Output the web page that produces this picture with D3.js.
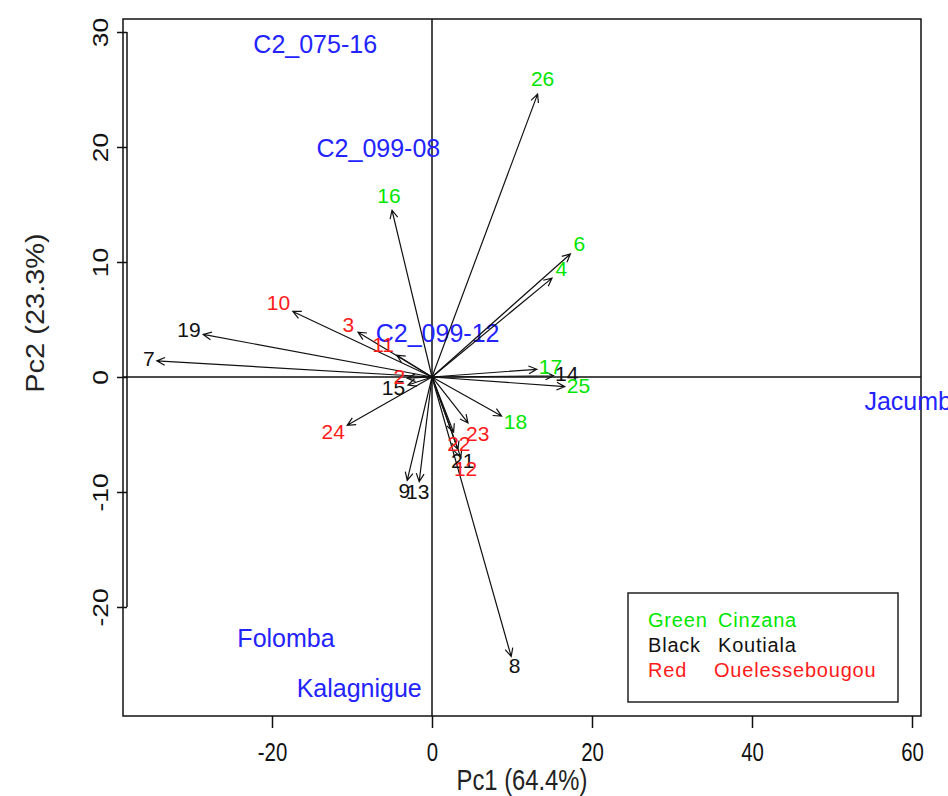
<!DOCTYPE html>
<html>
<head>
<meta charset="utf-8">
<script src="https://cdn.jsdelivr.net/npm/d3@7"></script>
<style>
  html, body { margin: 0; padding: 0; background: #fff; overflow: hidden; }
  svg { display: block; }
</style>
</head>
<body>
<div id="chart"></div>
<script>
// Genotype loadings (arrows) on the first two principal components
const genotypes = ["26","16","6","4","17","14","25","18","23","22","21","12","8","13","9","15","2","24","11","3","10","19","7"];
const genotypeSite = ["Cinzana","Cinzana","Cinzana","Cinzana","Cinzana","Koutiala","Cinzana","Cinzana",
  "Ouelessebougou","Ouelessebougou","Koutiala","Ouelessebougou","Koutiala","Koutiala","Koutiala","Koutiala",
  "Ouelessebougou","Ouelessebougou","Ouelessebougou","Ouelessebougou","Ouelessebougou","Koutiala","Koutiala"];
const genotypePc1 = [13.2,-5.0,17.3,15.0,13.1,15.2,16.6,8.7,4.5,2.7,3.25,3.6,9.9,-1.6,-3.1,-3.0,-3.1,-10.6,-4.4,-9.25,-17.4,-28.6,-34.4];
const genotypePc2 = [24.6,14.5,10.7,8.6,0.67,0.1,-0.84,-3.4,-4.0,-4.8,-6.3,-7.0,-24.3,-9.1,-9.0,-0.7,-0.1,-4.2,1.9,3.9,5.7,3.7,1.4];

// Variety scores (blue labels)
const varieties = ["C2_075-16","C2_099-08","C2_099-12","Jacumbe","Folomba","Kalagnigue"];
const varietyPc1 = [-14.6,-6.7,0.7,60.4,-18.25,-9.1];
const varietyPc2 = [28.9,19.9,3.8,-2.1,-22.7,-27.1];

// Axis ticks and titles
const xTicks = [-20, 0, 20, 40, 60];
const yTicks = [-20, -10, 0, 10, 20, 30];
const xTitle = "Pc1 (64.4%)";
const yTitle = "Pc2 (23.3%)";

// Legend lines: colour word, site
const legendColour = ["Green", "Black", "Red"];
const legendSite = ["Cinzana", "Koutiala", "Ouelessebougou"];

const siteColour = { Cinzana: "#00e600", Koutiala: "#111111", Ouelessebougou: "#ff1a1a" };
const blue = "#2323ff";

const W = 948, H = 796;
const box = { left: 123, right: 921, top: 19, bottom: 716 };

const svg = d3.select("#chart").append("svg").attr("width", W).attr("height", H);

const x = d3.scaleLinear().domain([-38.625, 61.125]).range([box.left, box.right]);
const y = d3.scaleLinear().domain([-29.48, 31.13]).range([box.bottom, box.top]);

const sans = "'Liberation Sans', Arial, sans-serif";

// Plot frame
svg.append("rect")
  .attr("x", box.left).attr("y", box.top)
  .attr("width", box.right - box.left).attr("height", box.bottom - box.top)
  .attr("fill", "none").attr("stroke", "#111").attr("stroke-width", 1.5);

// Zero reference lines
svg.append("line").attr("x1", x(0)).attr("x2", x(0)).attr("y1", box.top).attr("y2", box.bottom)
  .attr("stroke", "#111").attr("stroke-width", 1.5);
svg.append("line").attr("x1", box.left).attr("x2", box.right).attr("y1", y(0)).attr("y2", y(0))
  .attr("stroke", "#111").attr("stroke-width", 1.5);

// Bottom axis
const xAxis = d3.axisBottom(x).tickValues(xTicks).tickSize(12).tickFormat(d3.format("d"));
const gx = svg.append("g").attr("transform", `translate(0,${box.bottom})`).call(xAxis);
gx.select(".domain").remove();
gx.selectAll(".tick line").attr("stroke", "#111").attr("stroke-width", 1.5);
gx.selectAll(".tick text").remove();
gx.selectAll(".tick").append("text")
  .attr("transform", "translate(0,36) scale(0.85,1.05)")
  .attr("text-anchor", "middle").attr("dy", "0.35em")
  .attr("font-family", sans).attr("font-size", 24).attr("fill", "#111")
  .text(d => d < 0 ? "-" + Math.abs(d) : d);

// Left axis (drawn just inside the frame, with its own axis line)
const yAxis = d3.axisLeft(y).tickValues(yTicks).tickSize(10).tickSizeOuter(0).tickFormat(d3.format("d"));
const gy = svg.append("g").attr("transform", `translate(${box.left + 4},0)`).call(yAxis);
gy.select(".domain").attr("stroke", "#111").attr("stroke-width", 1.5)
  .attr("d", `M0,${y(30)}V${y(-20)}`);
gy.selectAll(".tick line").attr("stroke", "#111").attr("stroke-width", 1.5);
gy.selectAll(".tick text").remove();
gy.selectAll(".tick").append("text")
  .attr("transform", "translate(-27,0) rotate(-90) scale(1.1,0.9)")
  .attr("text-anchor", "middle").attr("dy", "0.35em")
  .attr("font-family", sans).attr("font-size", 24).attr("fill", "#111")
  .text(d => d < 0 ? "-" + Math.abs(d) : d);

// Axis titles
svg.append("text")
  .attr("transform", `translate(${(box.left + box.right) / 2},780) scale(0.82,1)`)
  .attr("dy", "0.35em")
  .attr("text-anchor", "middle").attr("font-family", sans).attr("font-size", 29).attr("fill", "#222")
  .text(xTitle);
svg.append("text")
  .attr("transform", "translate(35,313) rotate(-90) scale(1,0.9)")
  .attr("text-anchor", "middle").attr("dy", "0.35em")
  .attr("font-family", sans).attr("font-size", 29).attr("fill", "#222")
  .text(yTitle);

// Variety labels
svg.append("g").selectAll("text").data(varieties).join("text")
  .attr("x", (d, i) => x(varietyPc1[i]))
  .attr("y", (d, i) => y(varietyPc2[i]))
  .attr("dy", "0.35em").attr("text-anchor", "middle")
  .attr("font-family", sans).attr("font-size", 25).attr("fill", blue)
  .text(d => d);

// Genotype arrows
const arrows = svg.append("g").attr("stroke", "#111").attr("stroke-width", 1.2).attr("fill", "none");
const ox = x(0), oy = y(0);
const headLen = 9, headAng = Math.PI / 7;
genotypes.forEach((g, i) => {
  const tx = x(genotypePc1[i]), ty = y(genotypePc2[i]);
  const a = Math.atan2(ty - oy, tx - ox);
  const p1 = [tx - headLen * Math.cos(a - headAng), ty - headLen * Math.sin(a - headAng)];
  const p2 = [tx - headLen * Math.cos(a + headAng), ty - headLen * Math.sin(a + headAng)];
  arrows.append("path")
    .attr("d", `M${ox},${oy}L${tx},${ty}M${p1[0]},${p1[1]}L${tx},${ty}L${p2[0]},${p2[1]}`);
});

// Genotype labels, placed just beyond each arrow tip
svg.append("g").selectAll("text").data(genotypes).join("text")
  .each(function (g, i) {
    const tx = x(genotypePc1[i]), ty = y(genotypePc2[i]);
    const dx = tx - ox, dy = ty - oy, len = Math.hypot(dx, dy);
    const ux = dx / len, uy = dy / len;
    const w = g.length * 11, h = 18;
    const off = 2 + Math.abs(ux) * w / 2 + Math.abs(uy) * h / 2;
    d3.select(this)
      .attr("x", tx + ux * off).attr("y", ty + uy * off - 2);
  })
  .attr("dy", "0.35em").attr("text-anchor", "middle")
  .attr("font-family", sans).attr("font-size", 21)
  .attr("fill", (g, i) => siteColour[genotypeSite[i]])
  .text(d => d);

// Legend
const lg = svg.append("g");
lg.append("rect").attr("x", 628).attr("y", 593).attr("width", 270).attr("height", 109)
  .attr("fill", "#fff").attr("stroke", "#222").attr("stroke-width", 1.5);
legendColour.forEach((c, i) => {
  const col = siteColour[legendSite[i]];
  const yy = 627 + i * 25;
  lg.append("text").attr("x", 648).attr("y", yy)
    .attr("font-family", sans).attr("font-size", 20).attr("letter-spacing", 0.8).attr("fill", col)
    .text(c);
  lg.append("text").attr("x", i === 2 ? 714 : 718).attr("y", yy)
    .attr("font-family", sans).attr("font-size", 20).attr("letter-spacing", 0.8).attr("fill", col)
    .text(legendSite[i]);
});
</script>
</body>
</html>
